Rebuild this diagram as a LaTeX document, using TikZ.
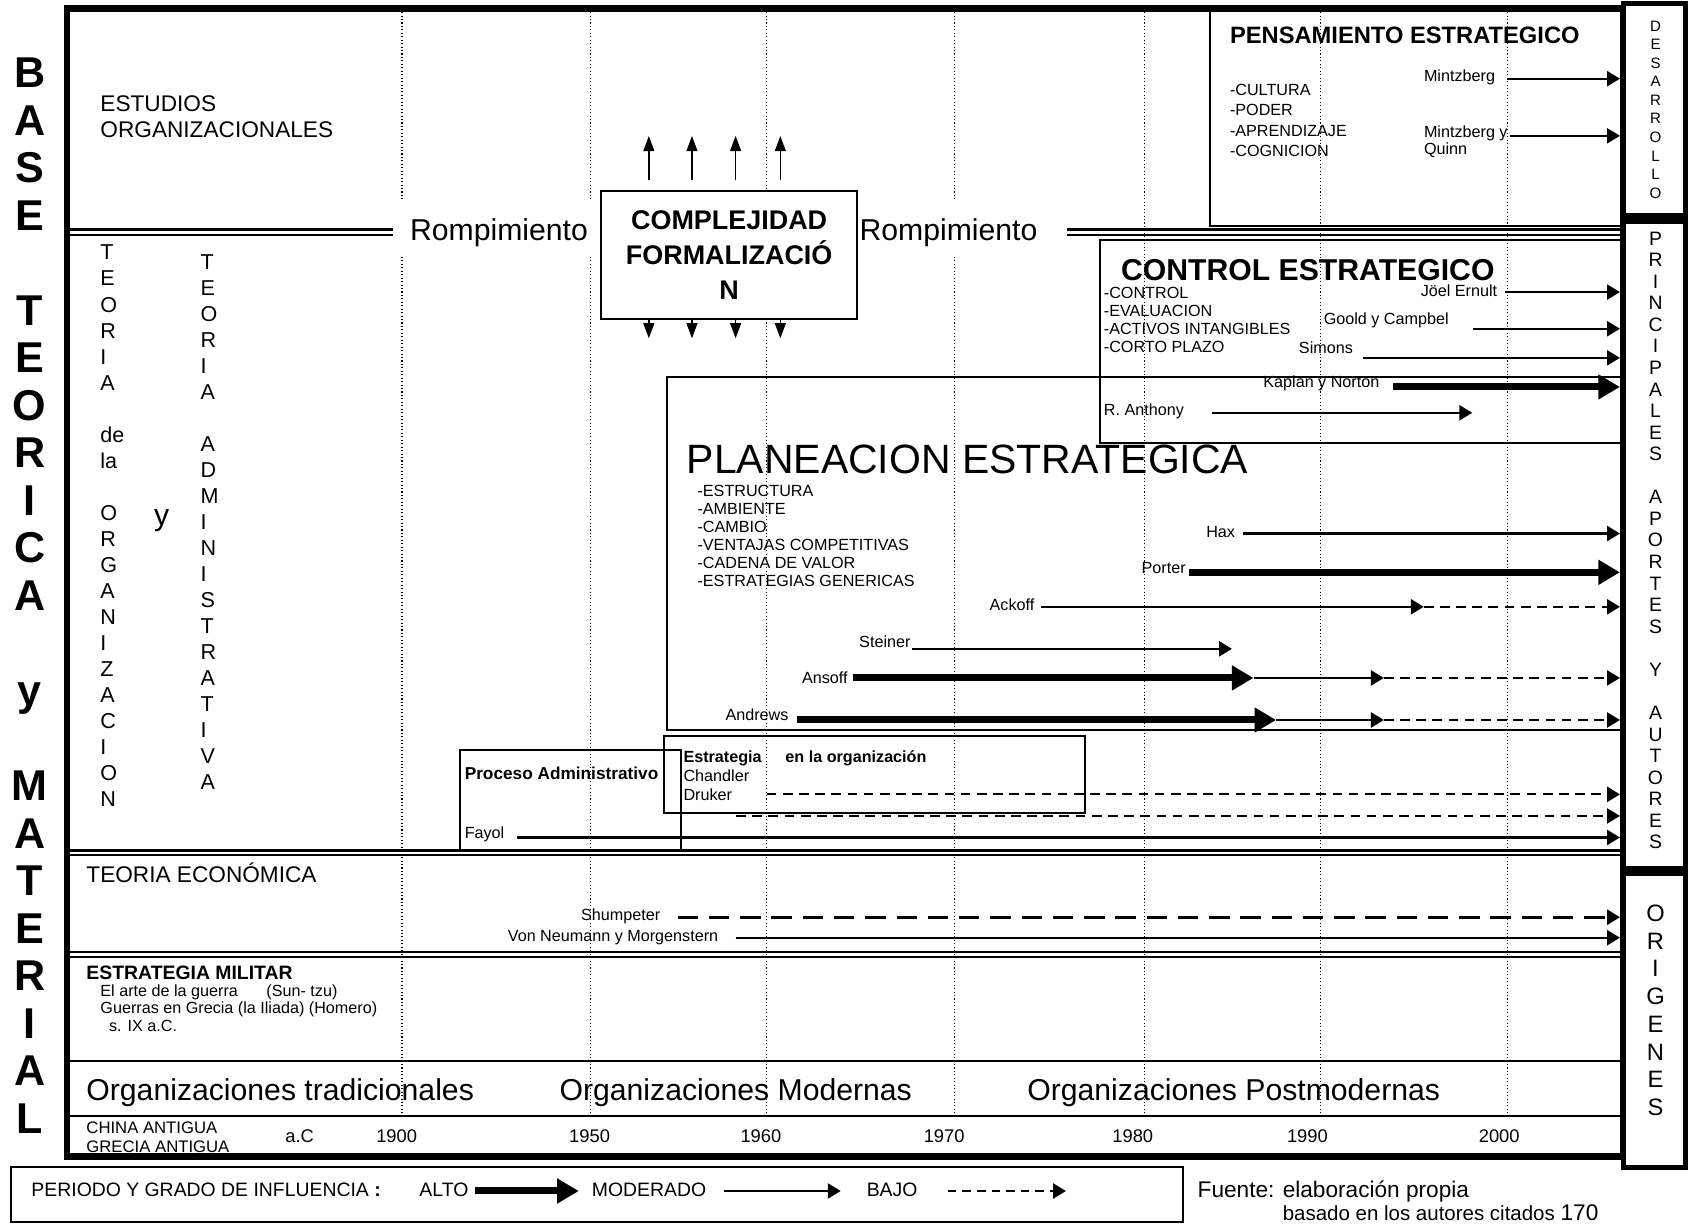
\documentclass[tikz,border=0pt]{standalone}
\usepackage{fontspec}
\setmainfont{Liberation Sans}
\usetikzlibrary{arrows.meta}

\begin{document}
\begin{tikzpicture}[x=1pt, y=-1pt,
    marco/.style={line width=6pt},
    caja/.style={draw, line width=1.8pt},
    anio/.style={line width=1pt, dash pattern=on 1pt off 2.2pt},
    alto/.style={line width=6.5pt, -{Triangle[length=20pt,width=22pt]}},
    moderado/.style={line width=2pt, -{Triangle[length=12pt,width=14pt]}},
    bajo/.style={line width=2pt, dash pattern=on 9pt off 6pt, -{Triangle[length=12pt,width=14pt]}},
    flecha/.style={line width=1.5pt, -{Triangle[length=14pt,width=10pt]}},
    txt/.style={anchor=base west, inner sep=0pt, font=\fontsize{15}{18}\selectfont},
    letra/.style={anchor=base, inner sep=0pt},
    romp/.style={fill=white, inner sep=0pt, text height=20pt, text depth=0pt,
        minimum height=51pt, minimum width=184pt, font=\fontsize{28}{28}\selectfont}]

    \useasboundingbox (0,0) rectangle (1568,1136);

    % Declare the year lines
    \foreach \x in {373,548,711,886,1062,1225,1399}
        \draw[anio] (\x,8) -- (\x,1035);

    % Declare the separators
    \draw[line width=2.5pt] (62,213) -- (365,213);
    \draw[line width=1.8pt] (62,218) -- (365,218);
    \draw[line width=2.5pt] (990,213) -- (1506,213);
    \draw[line width=1.8pt] (990,218) -- (1506,218);
    \draw[line width=2.2pt] (62,789) -- (1506,789);
    \draw[line width=1.8pt] (62,793.5) -- (1506,793.5);
    \draw[line width=2.2pt] (62,883) -- (1506,883);
    \draw[line width=1.8pt] (62,888) -- (1506,888);
    \draw[line width=2pt] (62,984) -- (1506,984);
    \draw[line width=2pt] (62,1035.5) -- (1506,1035.5);

    % Declare the boxes
    \draw[caja] (1123,8) rectangle (1506,210);
    \draw[caja] (1021,223) rectangle (1506,411);
    \draw[caja] (619,350) rectangle (1506,677);
    \draw[caja] (616,683) rectangle (1007,754);
    \draw[caja] (427,696) rectangle (632,790);
    \draw[caja] (10,1083) rectangle (1098,1134);

    % Declare the left column
    \foreach \c [count=\i from 0] in {B,A,S,E,{},T,E,O,R,I,C,A,{},y,{},M,A,T,E,R,I,A,L}
        \node[letra, font=\fontsize{40}{40}\selectfont\bfseries] (base-\i) at (27.5, 81.4+44.09*\i) {\c};

    % Declare the right column
    \foreach \c [count=\i from 0] in {D,E,S,A,R,R,O,L,L,O}
        \node[letra, font=\fontsize{14}{14}\selectfont] (des-\i) at (1536, 29+17.2*\i) {\c};
    \foreach \c [count=\i from 0] in {P,R,I,N,C,I,P,A,L,E,S,{},A,P,O,R,T,E,S,{},Y,{},A,U,T,O,R,E,S}
        \node[letra, font=\fontsize{18}{18}\selectfont] (pri-\i) at (1536, 227.5+20*\i) {\c};
    \foreach \c [count=\i from 0] in {O,R,I,G,E,N,E,S}
        \node[letra, font=\fontsize{22}{22}\selectfont] (ori-\i) at (1536, 855+25.7*\i) {\c};

    % Declare the theories
    \node[txt, font=\fontsize{21}{24}\selectfont] (estudios) at (93,103.6) {ESTUDIOS};
    \node[txt, font=\fontsize{21}{24}\selectfont] (organizacionales) at (93,127.6) {ORGANIZACIONALES};
    \foreach \c [count=\i from 0] in {T,E,O,R,I,A,{},de,la,{},O,R,G,A,N,I,Z,A,C,I,O,N}
        \node[txt, font=\fontsize{20}{20}\selectfont] (teo-\i) at (93, 241.2+24.14*\i) {\c};
    \foreach \c [count=\i from 0] in {T,E,O,R,I,A,{},A,D,M,I,N,I,S,T,R,A,T,I,V,A}
        \node[txt, font=\fontsize{20}{20}\selectfont] (adm-\i) at (186, 250.2+24.1*\i) {\c};
    \node[letra, font=\fontsize{28}{28}\selectfont] (y-teorias) at (150,488) {y};

    % Declare the break
    \node[romp] (romp-izq) at (463,213) {Rompimiento};
    \node[romp] (romp-der) at (880,213) {Rompimiento};
    \node[caja, fill=white, minimum width=238pt, minimum height=119pt, align=center,
        font=\fontsize{25}{32.5}\selectfont\bfseries] (complejidad) at (676.5,236.5)
        {COMPLEJIDAD\\FORMALIZACIÓ\\N};
    \foreach \d in {-74.5pt,-34.5pt,6pt,47.5pt}
    {
        \draw[flecha] ([xshift=\d]complejidad.north) ++(0,-9) -- ++(0,-41);
        \draw[flecha] ([xshift=\d]complejidad.south) -- ++(0,17);
    }

    % Declare pensamiento estrategico
    \node[txt, font=\fontsize{22}{22}\selectfont\bfseries] (pensamiento) at (1141,40) {PENSAMIENTO ESTRATEGICO};
    \node[txt] (cultura) at (1141,88.4) {-CULTURA};
    \node[txt] (poder) at (1141,107.4) {-PODER};
    \node[txt] (aprendizaje) at (1141,126.4) {-APRENDIZAJE};
    \node[txt] (cognicion) at (1141,145.4) {-COGNICION};
    \node[txt] (mintzberg) at (1321,75.4) {Mintzberg};
    \node[txt] (mintzquinn) at (1321,127.4) {Mintzberg y};
    \node[txt] (quinn) at (1321,143.4) {Quinn};
    \coordinate (mintzberg-fin) at (1503,73);
    \coordinate (mintzquinn-fin) at (1503,126);
    \draw[moderado, shorten <=11pt] (mintzberg.east |- mintzberg-fin) -- (mintzberg-fin);
    \draw[moderado, shorten <=2pt] (mintzquinn.east |- mintzquinn-fin) -- (mintzquinn-fin);

    % Declare control estrategico
    \node[txt, font=\fontsize{28}{28}\selectfont\bfseries] (control) at (1040,260) {CONTROL ESTRATEGICO};
    \node[txt] (c-control) at (1024,277.4) {-CONTROL};
    \node[txt] (c-evaluacion) at (1024,293.4) {-EVALUACION};
    \node[txt] (c-activos) at (1024,310.4) {-ACTIVOS INTANGIBLES};
    \node[txt] (c-corto) at (1024,327.4) {-CORTO PLAZO};
    \node[txt] (ernult) at (1318,275.4) {Jöel Ernult};
    \node[txt] (goold) at (1228,301.4) {Goold y Campbel};
    \node[txt] (simons) at (1205,328.4) {Simons};
    \node[txt] (kaplan) at (1172,359.4) {Kaplan y Norton};
    \node[txt] (anthony) at (1024,385.4) {R. Anthony};
    \coordinate (ernult-fin) at (1503,271);
    \coordinate (goold-fin) at (1503,305);
    \coordinate (simons-fin) at (1503,332);
    \coordinate (kaplan-fin) at (1503,359);
    \coordinate (anthony-fin) at (1366,383);
    \draw[moderado, shorten <=7pt] (ernult.east |- ernult-fin) -- (ernult-fin);
    \draw[moderado, shorten <=22pt] (goold.east |- goold-fin) -- (goold-fin);
    \draw[moderado, shorten <=9pt] (simons.east |- simons-fin) -- (simons-fin);
    \draw[alto, shorten <=12pt] (kaplan.east |- kaplan-fin) -- (kaplan-fin);
    \draw[moderado, shorten <=26pt] (anthony.east |- anthony-fin) -- (anthony-fin);

    % Declare planeacion estrategica
    \node[txt, font=\fontsize{38}{38}\selectfont] (planeacion) at (637,439.7) {PLANEACION ESTRATEGICA};
    \node[txt] (p-estructura) at (647,460.4) {-ESTRUCTURA};
    \node[txt] (p-ambiente) at (647,477.2) {-AMBIENTE};
    \node[txt] (p-cambio) at (647,494) {-CAMBIO};
    \node[txt] (p-ventajas) at (647,510.8) {-VENTAJAS COMPETITIVAS};
    \node[txt] (p-cadena) at (647,527.6) {-CADENA DE VALOR};
    \node[txt] (p-genericas) at (647,544.4) {-ESTRATEGIAS GENERICAS};
    \node[txt] (hax) at (1119,498.4) {Hax};
    \node[txt] (porter) at (1059,532.4) {Porter};
    \node[txt] (ackoff) at (918,566.4) {Ackoff};
    \node[txt] (steiner) at (797,600.4) {Steiner};
    \node[txt] (ansoff) at (744,634.4) {Ansoff};
    \node[txt] (andrews) at (673,668.4) {Andrews};
    \coordinate (hax-fin) at (1503,495);
    \coordinate (porter-fin) at (1503,531);
    \coordinate (ackoff-a) at (1321,563);
    \coordinate (ackoff-fin) at (1503,563);
    \coordinate (steiner-fin) at (1143,602);
    \coordinate (ansoff-a) at (1163,629);
    \coordinate (ansoff-b) at (1284,629);
    \coordinate (ansoff-fin) at (1503,629);
    \coordinate (andrews-a) at (1184,668);
    \coordinate (andrews-b) at (1284,668);
    \coordinate (andrews-fin) at (1503,668);
    \draw[moderado, shorten <=7pt] (hax.east |- hax-fin) -- (hax-fin);
    \draw[alto, shorten <=3pt] (porter.east |- porter-fin) -- (porter-fin);
    \draw[moderado, shorten <=6pt] (ackoff.east |- ackoff-a) -- (ackoff-a);
    \draw[bajo] (ackoff-a) -- (ackoff-fin);
    \draw[moderado, shorten <=1pt] (steiner.east |- steiner-fin) -- (steiner-fin);
    \draw[alto, shorten <=5pt] (ansoff.east |- ansoff-a) -- (ansoff-a);
    \draw[moderado] (ansoff-a) -- (ansoff-b);
    \draw[bajo] (ansoff-b) -- (ansoff-fin);
    \draw[alto, shorten <=8pt] (andrews.east |- andrews-a) -- (andrews-a);
    \draw[moderado] (andrews-a) -- (andrews-b);
    \draw[bajo] (andrews-b) -- (andrews-fin);

    % Declare estrategia en la organizacion
    \node[txt, font=\fontsize{15}{18}\selectfont\bfseries] (estrategia) at (634,707.4) {Estrategia\hspace{22pt}en la organización};
    \node[txt] (chandler) at (634,725.4) {Chandler};
    \node[txt] (druker) at (634,742.4) {Druker};
    \coordinate (druker-fin) at (1503,737);
    \coordinate (chandler-ini) at (683,757);
    \coordinate (chandler-fin) at (1503,757);
    \draw[bajo, shorten <=32pt] (druker.east |- druker-fin) -- (druker-fin);
    \draw[bajo] (chandler-ini) -- (chandler-fin);

    % Declare proceso administrativo
    \node[txt, font=\fontsize{16}{18}\selectfont\bfseries] (proceso) at (431,722.8) {Proceso Administrativo};
    \node[txt] (fayol) at (431,778.4) {Fayol};
    \coordinate (fayol-fin) at (1503,777);
    \draw[moderado, shorten <=12pt] (fayol.east |- fayol-fin) -- (fayol-fin);

    % Declare teoria economica
    \node[txt, font=\fontsize{21}{24}\selectfont] (economica) at (80,818.6) {TEORIA ECONÓMICA};
    \node[txt] (shumpeter) at (539,854.4) {Shumpeter};
    \node[txt] (neumann) at (471,873.4) {Von Neumann y Morgenstern};
    \coordinate (shumpeter-fin) at (1503,851);
    \coordinate (neumann-fin) at (1503,870);
    \draw[bajo, line width=2.5pt, dash pattern=on 19pt off 10pt, shorten <=16pt] (shumpeter.east |- shumpeter-fin) -- (shumpeter-fin);
    \draw[moderado, shorten <=16pt] (neumann.east |- neumann-fin) -- (neumann-fin);

    % Declare estrategia militar
    \node[txt, font=\fontsize{18}{20}\selectfont\bfseries] (militar) at (80,908.5) {ESTRATEGIA MILITAR};
    \node[txt] (guerra) at (93,924.4) {El arte de la guerra};
    \node[txt] (suntzu) at (247,924.4) {(Sun- tzu)};
    \node[txt] (grecia) at (93,940.4) {Guerras en Grecia (la Iliada) (Homero)};
    \node[txt] (siglo) at (101,957.4) {s. IX a.C.};

    % Declare the organizations
    \node[txt, font=\fontsize{28}{28}\selectfont] (tradicionales) at (80,1021) {Organizaciones tradicionales};
    \node[txt, font=\fontsize{28}{28}\selectfont] (modernas) at (519,1021) {Organizaciones Modernas};
    \node[txt, font=\fontsize{28}{28}\selectfont] (postmodernas) at (953,1021) {Organizaciones Postmodernas};

    % Declare the years
    \node[txt, font=\fontsize{15.5}{18}\selectfont] (china) at (80,1051.6) {CHINA ANTIGUA};
    \node[txt, font=\fontsize{15.5}{18}\selectfont] (grecia-antigua) at (80,1069.6) {GRECIA ANTIGUA};
    \node[letra, font=\fontsize{17}{17}\selectfont] (ac) at (278,1060) {a.C};
    \node[letra, font=\fontsize{17}{17}\selectfont] (y1900) at (368,1060) {1900};
    \node[letra, font=\fontsize{17}{17}\selectfont] (y1950) at (547,1060) {1950};
    \node[letra, font=\fontsize{17}{17}\selectfont] (y1960) at (706,1060) {1960};
    \node[letra, font=\fontsize{17}{17}\selectfont] (y1970) at (876,1060) {1970};
    \node[letra, font=\fontsize{17}{17}\selectfont] (y1980) at (1051,1060) {1980};
    \node[letra, font=\fontsize{17}{17}\selectfont] (y1990) at (1213,1060) {1990};
    \node[letra, font=\fontsize{17}{17}\selectfont] (y2000) at (1391,1060) {2000};

    % Declare the frame
    \draw[marco] (62,8) rectangle (1506,1073);
    \draw[line width=5pt] (1506,3) rectangle (1564,200);
    \draw[line width=5pt] (1506,205) rectangle (1564,806);
    \draw[line width=5pt] (1506,810) rectangle (1564,1083);

    % Declare the legend
    \node[txt, font=\fontsize{18}{18}\selectfont] (periodo) at (29,1110.5) {PERIODO Y GRADO DE INFLUENCIA \textbf{:}};
    \node[txt, font=\fontsize{18}{18}\selectfont] (ley-alto) at (389,1110.5) {ALTO};
    \node[txt, font=\fontsize{18}{18}\selectfont] (ley-moderado) at (549,1110.5) {MODERADO};
    \node[txt, font=\fontsize{18}{18}\selectfont] (ley-bajo) at (804,1110.5) {BAJO};
    \coordinate (ley-fin) at (989,1105);
    \draw[alto, shorten <=6pt, shorten >=12pt] (ley-alto.east |- ley-fin) -- (ley-moderado.west |- ley-fin);
    \draw[moderado, shorten <=16pt, shorten >=24pt] (ley-moderado.east |- ley-fin) -- (ley-bajo.west |- ley-fin);
    \draw[bajo, dash pattern=on 8pt off 5.5pt, shorten <=28pt] (ley-bajo.east |- ley-fin) -- (ley-fin);

    % Declare the source
    \node[txt, font=\fontsize{21}{21}\selectfont] (fuente) at (1111,1111) {Fuente: elaboración propia};
    \node[txt, font=\fontsize{19}{19}\selectfont] (basado) at (1190,1132) {basado en los autores citados {\fontsize{21}{21}\selectfont 170}};

\end{tikzpicture}
\end{document}
